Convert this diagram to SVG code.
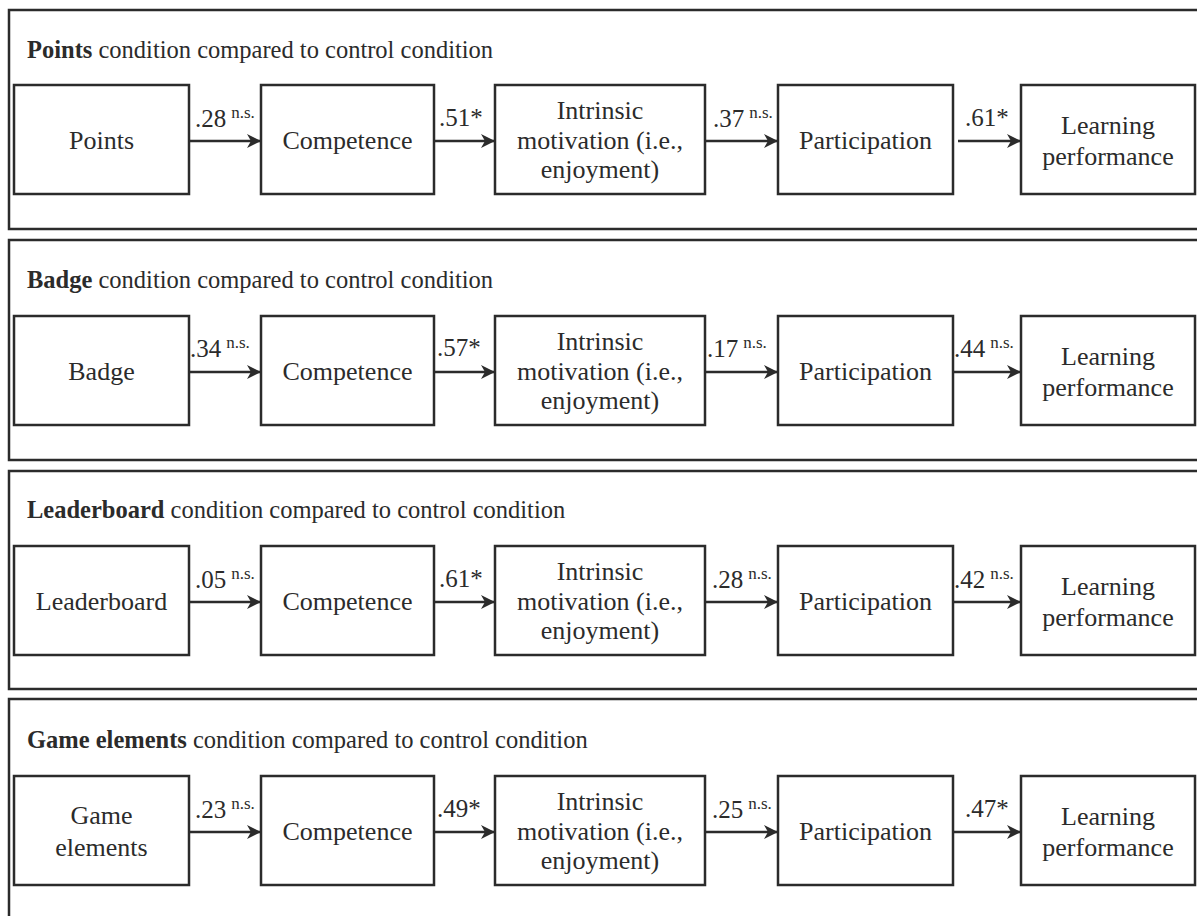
<svg xmlns="http://www.w3.org/2000/svg" width="1197" height="916" viewBox="0 0 1197 916">
  <defs>
    <style>
      .panel { fill: none; stroke: #2b2b2b; stroke-width: 2.5; }
      .box { fill: #ffffff; stroke: #2b2b2b; stroke-width: 2.5; }
      text { font-family: 'Liberation Serif', 'DejaVu Serif', 'Times New Roman', serif; fill: #2b2b2b; }
      .lbl { font-size: 26px; text-anchor: middle; }
      .title { font-size: 24.5px; }
      .b { font-weight: bold; }
      .coef { font-size: 25px; }
      .ns { font-size: 17px; }
      .edge { fill: none; stroke: #2b2b2b; stroke-width: 2.5; marker-end: url(#arrow); }
    </style>
    <marker id="arrow" markerWidth="14" markerHeight="14" refX="13" refY="7" orient="auto" markerUnits="userSpaceOnUse">
      <path d="M0,0 L14,7 L0,14 L4,7 Z" fill="#2b2b2b"/>
    </marker>
  </defs>

  <rect width="1197" height="916" fill="#ffffff"/>

  <!-- panel frames -->
  <g id="panels">
    <rect class="panel" x="9" y="10" width="1200" height="219"/>
    <rect class="panel" x="9" y="240" width="1200" height="220"/>
    <rect class="panel" x="9" y="471" width="1200" height="218"/>
    <path class="panel" d="M1200,699 H9 V916"/>
  </g>

  <!-- panel titles -->
  <g id="titles">
    <text class="title" x="27" y="58"><tspan class="b">Points</tspan> condition compared to control condition</text>
    <text class="title" x="27" y="288"><tspan class="b">Badge</tspan> condition compared to control condition</text>
    <text class="title" x="27" y="518"><tspan class="b">Leaderboard</tspan> condition compared to control condition</text>
    <text class="title" x="27" y="748"><tspan class="b">Game elements</tspan> condition compared to control condition</text>
  </g>

  <!-- row 1: points -->
  <g id="points">
    <rect class="box" x="14" y="85" width="175" height="109"/>
    <text class="lbl" x="101.5" y="149">Points</text>
  </g>
  <g id="competence-1">
    <rect class="box" x="261" y="85" width="173" height="109"/>
    <text class="lbl" x="347.5" y="149">Competence</text>
  </g>
  <g id="intrinsic-1">
    <rect class="box" x="495" y="85" width="210" height="109"/>
    <text class="lbl" x="600" y="119">Intrinsic</text>
    <text class="lbl" x="600" y="149">motivation (i.e.,</text>
    <text class="lbl" x="600" y="178">enjoyment)</text>
  </g>
  <g id="participation-1">
    <rect class="box" x="778" y="85" width="175" height="109"/>
    <text class="lbl" x="865.5" y="149">Participation</text>
  </g>
  <g id="learning-1">
    <rect class="box" x="1021" y="85" width="174" height="109"/>
    <text class="lbl" x="1108" y="134">Learning</text>
    <text class="lbl" x="1108" y="165">performance</text>
  </g>

  <!-- row 2: badge -->
  <g id="badge">
    <rect class="box" x="14" y="316" width="175" height="109"/>
    <text class="lbl" x="101.5" y="380">Badge</text>
  </g>
  <g id="competence-2">
    <rect class="box" x="261" y="316" width="173" height="109"/>
    <text class="lbl" x="347.5" y="380">Competence</text>
  </g>
  <g id="intrinsic-2">
    <rect class="box" x="495" y="316" width="210" height="109"/>
    <text class="lbl" x="600" y="350">Intrinsic</text>
    <text class="lbl" x="600" y="380">motivation (i.e.,</text>
    <text class="lbl" x="600" y="409">enjoyment)</text>
  </g>
  <g id="participation-2">
    <rect class="box" x="778" y="316" width="175" height="109"/>
    <text class="lbl" x="865.5" y="380">Participation</text>
  </g>
  <g id="learning-2">
    <rect class="box" x="1021" y="316" width="174" height="109"/>
    <text class="lbl" x="1108" y="365">Learning</text>
    <text class="lbl" x="1108" y="396">performance</text>
  </g>

  <!-- row 3: leaderboard -->
  <g id="leaderboard">
    <rect class="box" x="14" y="546" width="175" height="109"/>
    <text class="lbl" x="101.5" y="610">Leaderboard</text>
  </g>
  <g id="competence-3">
    <rect class="box" x="261" y="546" width="173" height="109"/>
    <text class="lbl" x="347.5" y="610">Competence</text>
  </g>
  <g id="intrinsic-3">
    <rect class="box" x="495" y="546" width="210" height="109"/>
    <text class="lbl" x="600" y="580">Intrinsic</text>
    <text class="lbl" x="600" y="610">motivation (i.e.,</text>
    <text class="lbl" x="600" y="639">enjoyment)</text>
  </g>
  <g id="participation-3">
    <rect class="box" x="778" y="546" width="175" height="109"/>
    <text class="lbl" x="865.5" y="610">Participation</text>
  </g>
  <g id="learning-3">
    <rect class="box" x="1021" y="546" width="174" height="109"/>
    <text class="lbl" x="1108" y="595">Learning</text>
    <text class="lbl" x="1108" y="626">performance</text>
  </g>

  <!-- row 4: game elements -->
  <g id="game-elements">
    <rect class="box" x="14" y="776" width="175" height="109"/>
    <text class="lbl" x="101.5" y="824">Game</text>
    <text class="lbl" x="101.5" y="856">elements</text>
  </g>
  <g id="competence-4">
    <rect class="box" x="261" y="776" width="173" height="109"/>
    <text class="lbl" x="347.5" y="840">Competence</text>
  </g>
  <g id="intrinsic-4">
    <rect class="box" x="495" y="776" width="210" height="109"/>
    <text class="lbl" x="600" y="810">Intrinsic</text>
    <text class="lbl" x="600" y="840">motivation (i.e.,</text>
    <text class="lbl" x="600" y="869">enjoyment)</text>
  </g>
  <g id="participation-4">
    <rect class="box" x="778" y="776" width="175" height="109"/>
    <text class="lbl" x="865.5" y="840">Participation</text>
  </g>
  <g id="learning-4">
    <rect class="box" x="1021" y="776" width="174" height="109"/>
    <text class="lbl" x="1108" y="825">Learning</text>
    <text class="lbl" x="1108" y="856">performance</text>
  </g>

  <!-- path arrows with coefficients -->
  <g id="connectors">
    <path class="edge" d="M189,141 H260"/>
    <path class="edge" d="M434,141 H494"/>
    <path class="edge" d="M705,141 H777"/>
    <path class="edge" d="M958,141 H1020"/>
    <text class="coef" x="195" y="127">.28<tspan class="ns" dx="5" dy="-9">n.s.</tspan></text>
    <text class="coef" x="439" y="126">.51*</text>
    <text class="coef" x="713" y="127">.37<tspan class="ns" dx="5" dy="-9">n.s.</tspan></text>
    <text class="coef" x="965" y="126">.61*</text>

    <path class="edge" d="M189,372 H260"/>
    <path class="edge" d="M434,372 H494"/>
    <path class="edge" d="M705,372 H777"/>
    <path class="edge" d="M953,372 H1020"/>
    <text class="coef" x="190" y="357">.34<tspan class="ns" dx="5" dy="-9">n.s.</tspan></text>
    <text class="coef" x="437" y="356">.57*</text>
    <text class="coef" x="707" y="357">.17<tspan class="ns" dx="5" dy="-9">n.s.</tspan></text>
    <text class="coef" x="954" y="357">.44<tspan class="ns" dx="5" dy="-9">n.s.</tspan></text>

    <path class="edge" d="M189,602 H260"/>
    <path class="edge" d="M434,602 H494"/>
    <path class="edge" d="M705,602 H777"/>
    <path class="edge" d="M953,602 H1020"/>
    <text class="coef" x="195" y="588">.05<tspan class="ns" dx="5" dy="-9">n.s.</tspan></text>
    <text class="coef" x="439" y="587">.61*</text>
    <text class="coef" x="712" y="588">.28<tspan class="ns" dx="5" dy="-9">n.s.</tspan></text>
    <text class="coef" x="954" y="588">.42<tspan class="ns" dx="5" dy="-9">n.s.</tspan></text>

    <path class="edge" d="M189,832 H260"/>
    <path class="edge" d="M434,832 H494"/>
    <path class="edge" d="M705,832 H777"/>
    <path class="edge" d="M953,832 H1020"/>
    <text class="coef" x="195" y="818">.23<tspan class="ns" dx="5" dy="-9">n.s.</tspan></text>
    <text class="coef" x="437" y="817">.49*</text>
    <text class="coef" x="712" y="818">.25<tspan class="ns" dx="5" dy="-9">n.s.</tspan></text>
    <text class="coef" x="965" y="817">.47*</text>
  </g>
</svg>
